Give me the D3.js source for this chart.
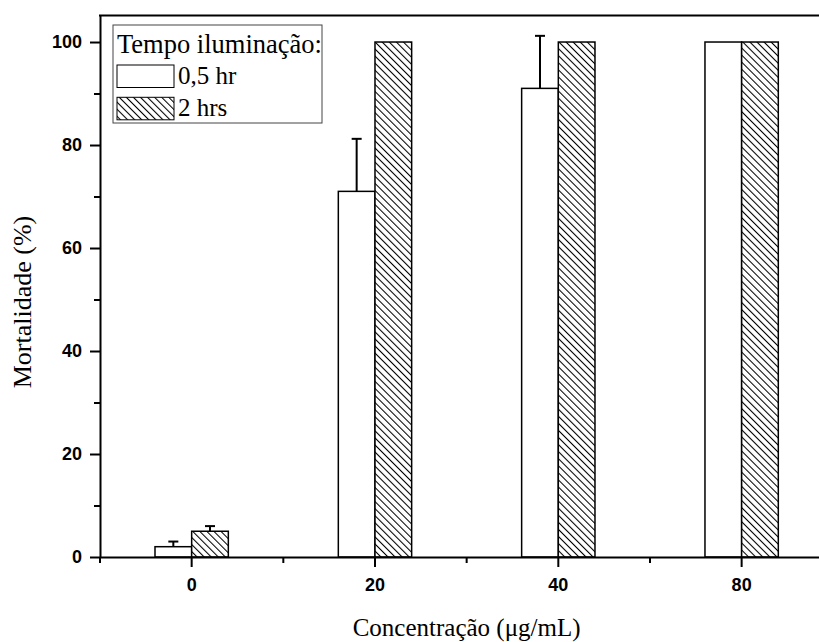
<!DOCTYPE html>
<html>
<head>
<meta charset="utf-8">
<script src="https://cdn.jsdelivr.net/npm/d3@7"></script>
<style>
  html, body { margin: 0; padding: 0; background: #fff; }
  svg { display: block; }
</style>
</head>
<body>
<svg id="chart" width="819" height="642"></svg>
<script>
// ---- data ----
const categories = ["0", "20", "40", "80"];
const seriesNames = ["0,5 hr", "2 hrs"];
const values05 = [2, 71, 91, 100];
const errors05 = [1, 10.2, 10.2, 0];
const values2 = [5, 100, 100, 100];
const errors2 = [1, 0, 0, 0];
const yTicks = [0, 20, 40, 60, 80, 100];
const yMinorTicks = [10, 30, 50, 70, 90];
const legendTitle = "Tempo iluminação:";
const xTitle = "Concentração (μg/mL)";
const yTitle = "Mortalidade (%)";

(function () {
// ---- layout ----
const svg = d3.select("#chart");
const mLeft = 100, mRight = 833.3, mTop = 15.5, mBottom = 557;

const x = d3.scaleBand().domain(categories).range([mLeft, mRight]).padding(0);
const y = d3.scaleLinear().domain([0, 105.15]).range([mBottom, mTop]);
const barW = x.bandwidth() * 0.2;

// hatch pattern
const defs = svg.append("defs");
const pat = defs.append("pattern")
  .attr("id", "hatch").attr("patternUnits", "userSpaceOnUse")
  .attr("width", 5).attr("height", 5)
  .attr("patternTransform", "rotate(-45)");
pat.append("rect").attr("width", 5).attr("height", 5).attr("fill", "#fff");
pat.append("line").attr("x1", 0.5).attr("y1", 0).attr("x2", 0.5).attr("y2", 5)
  .attr("stroke", "#000").attr("stroke-width", 1.1);

const serif = "'Liberation Serif', 'Times New Roman', serif";
const sans = "'Liberation Sans', Arial, sans-serif";
const serifSize = 25;

// bars
const series = [
  {name: seriesNames[0], vals: values05, errs: errors05, fill: "#fff", off: -1},
  {name: seriesNames[1], vals: values2, errs: errors2, fill: "url(#hatch)", off: 0}
];
series.forEach(s => {
  const g = svg.append("g");
  categories.forEach((c, i) => {
    const cx = x(c) + x.bandwidth() / 2;
    const x0 = cx + s.off * barW;
    g.append("rect")
      .attr("x", x0).attr("y", y(s.vals[i]))
      .attr("width", barW).attr("height", y(0) - y(s.vals[i]))
      .attr("fill", s.fill).attr("stroke", "#000").attr("stroke-width", 1.5);
  });
});
// error bars (upper only)
series.forEach(s => {
  categories.forEach((c, i) => {
    if (!s.errs[i]) return;
    const cx = x(c) + x.bandwidth() / 2 + s.off * barW + barW / 2;
    const y0 = y(s.vals[i]), y1 = y(s.vals[i] + s.errs[i]);
    svg.append("line").attr("x1", cx).attr("x2", cx).attr("y1", y0).attr("y2", y1)
      .attr("stroke", "#000").attr("stroke-width", 2);
    svg.append("line").attr("x1", cx - 5).attr("x2", cx + 5).attr("y1", y1).attr("y2", y1)
      .attr("stroke", "#000").attr("stroke-width", 2);
  });
});

// axes
const yAxis = svg.append("g").attr("transform", `translate(${mLeft},0)`)
  .call(d3.axisLeft(y).tickValues(yTicks).tickSize(10).tickPadding(8).tickSizeOuter(0));
const yMinor = svg.append("g").attr("transform", `translate(${mLeft},0)`)
  .call(d3.axisLeft(y).tickValues(yMinorTicks).tickSize(6).tickFormat("").tickSizeOuter(0));
const xAxis = svg.append("g").attr("transform", `translate(0,${mBottom})`)
  .call(d3.axisBottom(x).tickSize(10).tickPadding(11).tickSizeOuter(0));
const boundaries = categories.map(c => x(c)).concat([mRight]);
const xMinor = svg.append("g").attr("transform", `translate(0,${mBottom})`);
boundaries.forEach(b => {
  xMinor.append("line").attr("x1", b).attr("x2", b).attr("y1", 0).attr("y2", 6)
    .attr("stroke", "#000").attr("stroke-width", 2);
});
[yAxis, yMinor, xAxis].forEach(a => {
  a.selectAll("path").attr("stroke", "#000").attr("stroke-width", 2);
  a.selectAll("line").attr("stroke", "#000").attr("stroke-width", 2);
  a.selectAll("text").attr("font-family", sans).attr("font-weight", "bold")
    .attr("font-size", 18).attr("fill", "#000");
});
yMinor.select("path").remove();
// top frame line
svg.append("line").attr("x1", mLeft - 1).attr("x2", mRight).attr("y1", mTop).attr("y2", mTop)
  .attr("stroke", "#000").attr("stroke-width", 2);

// axis titles
svg.append("text").attr("x", (mLeft + mRight) / 2).attr("y", 636)
  .attr("text-anchor", "middle").attr("font-family", serif).attr("font-size", serifSize)
  .text(xTitle);
svg.append("text").attr("transform", `translate(31,302) rotate(-90)`)
  .attr("text-anchor", "middle").attr("font-family", serif).attr("font-size", 26)
  .text(yTitle);

// legend
const lg = svg.append("g");
lg.append("rect").attr("x", 113).attr("y", 25).attr("width", 209).attr("height", 98)
  .attr("fill", "#fff").attr("stroke", "#444").attr("stroke-width", 1);
lg.append("text").attr("x", 117).attr("y", 52.5).attr("font-family", serif)
  .attr("font-size", 26.5).text(legendTitle);
series.forEach((s, i) => {
  const yy = 65 + i * 32.3;
  lg.append("rect").attr("x", 117).attr("y", yy).attr("width", 57).attr("height", 22.5)
    .attr("fill", s.fill).attr("stroke", "#000").attr("stroke-width", 1);
  lg.append("text").attr("x", 178).attr("y", yy + 19).attr("font-family", serif)
    .attr("font-size", serifSize).text(s.name);
});
})();
</script>
</body>
</html>
